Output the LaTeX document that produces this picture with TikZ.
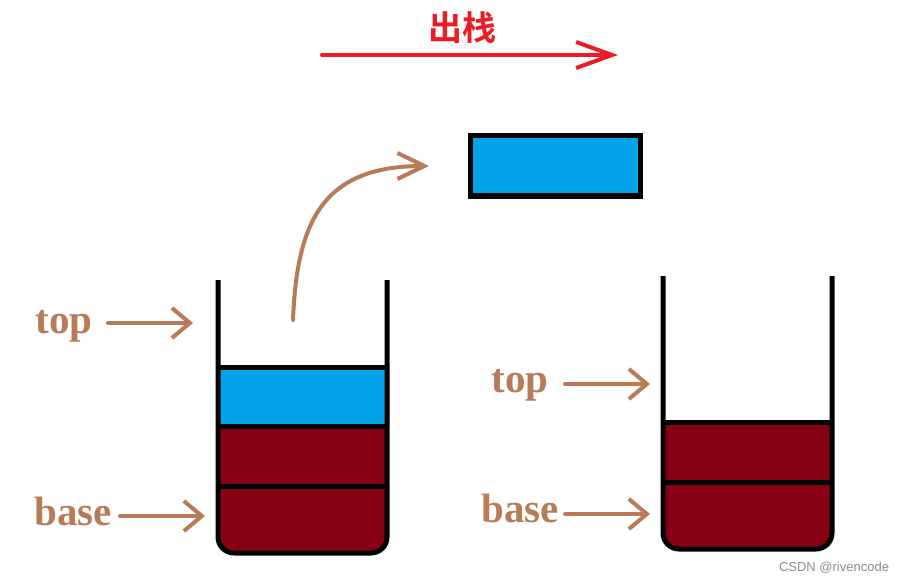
\documentclass[tikz,border=0pt]{standalone}
\usepackage{fontspec}
\setmainfont{Liberation Serif}
\newfontfamily\cjkbold{Noto Sans CJK SC Bold}
\newfontfamily\wmfont{Liberation Sans}
\usetikzlibrary{arrows.meta}
\definecolor{paintbrown}{RGB}{185,122,87}
\definecolor{paintred}{RGB}{237,28,36}
\definecolor{popblue}{RGB}{0,162,232}
\definecolor{stackred}{RGB}{136,0,21}
\tikzset{
    lbl/.style={anchor=base,text=paintbrown,font=\fontsize{41}{41}\bfseries\selectfont,inner sep=0pt},
    brownarr/.style={draw=paintbrown,line width=4pt,-{Straight Barb[length=18pt,width=30pt]}},
    wall/.style={line width=5pt},
}
\begin{document}
\begin{tikzpicture}[line cap=round,line join=round,x=1pt,y=-1pt]
                \useasboundingbox (0,0) rectangle (908,583);
                % pop arrow
                \node[text=paintred,font=\fontsize{34}{34}\cjkbold\selectfont,inner sep=0pt] (poplbl) at (462,28) {出栈};
                \coordinate (popfrom) at (322,55);
                \coordinate (popto) at (618,55);
                \draw [draw=paintred,line width=4pt,-{Straight Barb[length=36pt,width=26pt]}] (popfrom)-- (popto);
                % popped element
                \node[draw,line width=5pt,fill=popblue,minimum width=170pt,minimum height=60pt,inner sep=0pt,line join=miter] (popped) at (555,166) {};
                \coordinate (curvefrom) at (293,320);
                \coordinate (curveto) at (429,166);
                \draw [draw=paintbrown,line width=4pt,-{Straight Barb[length=27pt,width=26pt]}] (curvefrom) .. controls (297,222) and (322,166) .. (curveto);
                % left stack
                \fill [popblue] (218,367) rectangle (387,426);
                \fill [stackred] (218,426) [rounded corners=16pt]-- (218,553) -- (387,553) [sharp corners]-- (387,426) -- cycle;
                \draw [wall,line cap=butt] (216,367)-- (389,367);
                \draw [wall,line cap=butt] (218,426)-- (389,426);
                \draw [wall,line cap=butt] (218,486)-- (387,486);
                \draw [wall,line cap=butt,rounded corners=16pt] (218,280)-- (218,553)-- (387,553)-- (387,280);
                % right stack
                \fill [stackred] (663,422) [rounded corners=16pt]-- (663,549) -- (832,549) [sharp corners]-- (832,422) -- cycle;
                \draw [wall,line cap=butt] (663,422)-- (834,422);
                \draw [wall,line cap=butt] (663,482)-- (832,482);
                \draw [wall,line cap=butt,rounded corners=16pt] (663,276)-- (663,549)-- (832,549)-- (832,276);
                % pointers
                \node[lbl] (ltop) at (64,333) {top};
                \node[lbl] (lbase) at (73,525) {base};
                \node[lbl] (rtop) at (520,392) {top};
                \node[lbl] (rbase) at (520,522) {base};
                \coordinate (ltopfrom) at (108,323);
                \coordinate (ltopto) at (193,323);
                \coordinate (lbasefrom) at (120,516);
                \coordinate (lbaseto) at (205,516);
                \coordinate (rtopfrom) at (565,384);
                \coordinate (rtopto) at (650,384);
                \coordinate (rbasefrom) at (565,514);
                \coordinate (rbaseto) at (650,514);
                \draw [brownarr] (ltopfrom)-- (ltopto);
                \draw [brownarr] (lbasefrom)-- (lbaseto);
                \draw [brownarr] (rtopfrom)-- (rtopto);
                \draw [brownarr] (rbasefrom)-- (rbaseto);
                \node[text=black!45,font=\fontsize{13}{13}\wmfont\selectfont,inner sep=0pt] (mark) at (834,568) {CSDN @rivencode};
            \end{tikzpicture}
\end{document}
